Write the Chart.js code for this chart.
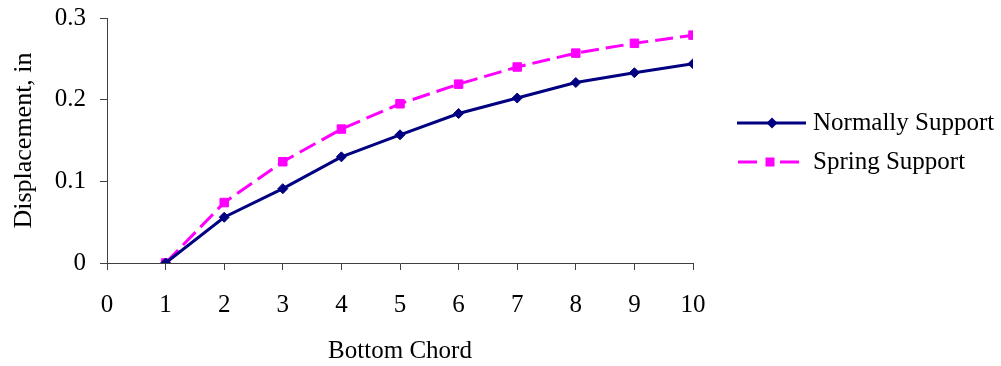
<!DOCTYPE html>
<html><head><meta charset="utf-8">
<script src="https://cdn.jsdelivr.net/npm/chart.js@4"></script>
<style>html,body{margin:0;padding:0;background:#fff}#wrap{width:1001px;height:366px;position:relative}</style>
</head><body><div id="wrap"><canvas id="c"></canvas></div>
<script>
const chords = [1, 2, 3, 4, 5, 6, 7, 8, 9, 10];
const normallySupport = [0, 0.056, 0.091, 0.130, 0.157, 0.183, 0.202, 0.221, 0.233, 0.244];
const springSupport = [0, 0.074, 0.124, 0.164, 0.195, 0.219, 0.240, 0.257, 0.269, 0.279];
const xTicks = [0, 1, 2, 3, 4, 5, 6, 7, 8, 9, 10];
const yTicks = [0, 0.1, 0.2, 0.3];
const yTickLabels = ['0', '0.1', '0.2', '0.3'];
const seriesNames = ['Normally Support', 'Spring Support'];
const xTitle = 'Bottom Chord';
const yTitle = 'Displacement, in';

const NAVY = '#000080', MAGENTA = '#FF00FF', AXIS = '#404040';
const FONT = "'Liberation Serif', 'Times New Roman', serif";

function makeIcon(color, shape) {
  const c = document.createElement('canvas');
  c.width = 70; c.height = 14;
  const g = c.getContext('2d');
  g.strokeStyle = color; g.lineWidth = 3; g.fillStyle = color;
  g.beginPath();
  if (shape === 'rect') {
    g.moveTo(1, 7); g.lineTo(20, 7); g.moveTo(43, 7); g.lineTo(62, 7); g.stroke();
    g.beginPath(); g.rect(33 - 4.5, 7 - 4.5, 9, 9); g.fill();
  } else {
    g.moveTo(0, 7); g.lineTo(69, 7); g.stroke();
    g.beginPath(); g.moveTo(35, 1.5); g.lineTo(40.5, 7); g.lineTo(35, 12.5); g.lineTo(29.5, 7); g.closePath(); g.fill();
  }
  return c;
}
const icons = [makeIcon(NAVY, 'diamond'), makeIcon(MAGENTA, 'rect')];

const sideLegend = {
  id: 'sideLegend',
  afterDraw(chart) {
    const ctx = chart.ctx, a = chart.chartArea;
    const cy = (a.top + a.bottom) / 2;
    const rows = [cy - 18, cy + 21];
    const x0 = a.right + 44;
    ctx.save();
    ctx.font = '25px ' + FONT;
    ctx.fillStyle = '#000'; ctx.textBaseline = 'middle'; ctx.textAlign = 'left';
    chart.data.datasets.forEach((d, i) => {
      ctx.drawImage(icons[i], x0, Math.round(rows[i]) - 7);
      ctx.fillText(d.label, x0 + 76, rows[i] + 1);
    });
    ctx.restore();
  }
};

const data = {
  datasets: [
    {
      label: seriesNames[0],
      data: chords.map((x, i) => ({ x: x, y: normallySupport[i] })),
      borderColor: NAVY, backgroundColor: NAVY, borderWidth: 3,
      pointStyle: 'rectRot', pointRadius: 5, pointBorderWidth: 1,
      pointBackgroundColor: NAVY, pointBorderColor: NAVY
    },
    {
      label: seriesNames[1],
      data: chords.map((x, i) => ({ x: x, y: springSupport[i] })),
      borderColor: MAGENTA, backgroundColor: MAGENTA, borderWidth: 3, borderDash: [18, 7],
      pointStyle: 'rect', pointRadius: 6, pointBorderWidth: 1,
      pointBackgroundColor: MAGENTA, pointBorderColor: MAGENTA
    }
  ]
};

new Chart(document.getElementById('c'), {
  type: 'line',
  data: data,
  plugins: [sideLegend],
  options: {
    responsive: true, maintainAspectRatio: false, animation: false,
    layout: { padding: { left: 0, right: 308, top: 0, bottom: 0 } },
    plugins: {
      tooltip: { enabled: false },
      legend: { display: false }
    },
    scales: {
      x: {
        type: 'linear', min: 0, max: 10,
        afterBuildTicks: s => { s.ticks = xTicks.map(v => ({ value: v })); },
        afterFit: s => { s.height = 103; s.paddingRight = 0; },
        grid: { drawOnChartArea: false, drawTicks: true, tickLength: 7, color: AXIS, tickColor: AXIS },
        border: { display: true, color: AXIS, width: 1 },
        ticks: { color: '#000', font: { family: FONT, size: 25 }, padding: 20, maxRotation: 0, autoSkip: false },
        title: { display: true, text: xTitle, color: '#000', font: { family: FONT, size: 25 }, padding: { top: 0, bottom: 0 } }
      },
      y: {
        type: 'linear', min: 0, max: 0.3,
        afterBuildTicks: s => { s.ticks = yTicks.map(v => ({ value: v })); },
        afterFit: s => { s.width = 107; s.paddingTop = 18; },
        grid: { drawOnChartArea: false, drawTicks: true, tickLength: 7, color: AXIS, tickColor: AXIS },
        border: { display: true, color: AXIS, width: 1 },
        ticks: { color: '#000', font: { family: FONT, size: 25 }, padding: 14,
          callback: (v) => { const i = yTicks.findIndex(t => Math.abs(t - v) < 1e-9); return i >= 0 ? yTickLabels[i] : ''; } },
        title: { display: true, text: yTitle, color: '#000', font: { family: FONT, size: 26 }, padding: { top: 9, bottom: 0 } }
      }
    }
  }
});
</script></body></html>
